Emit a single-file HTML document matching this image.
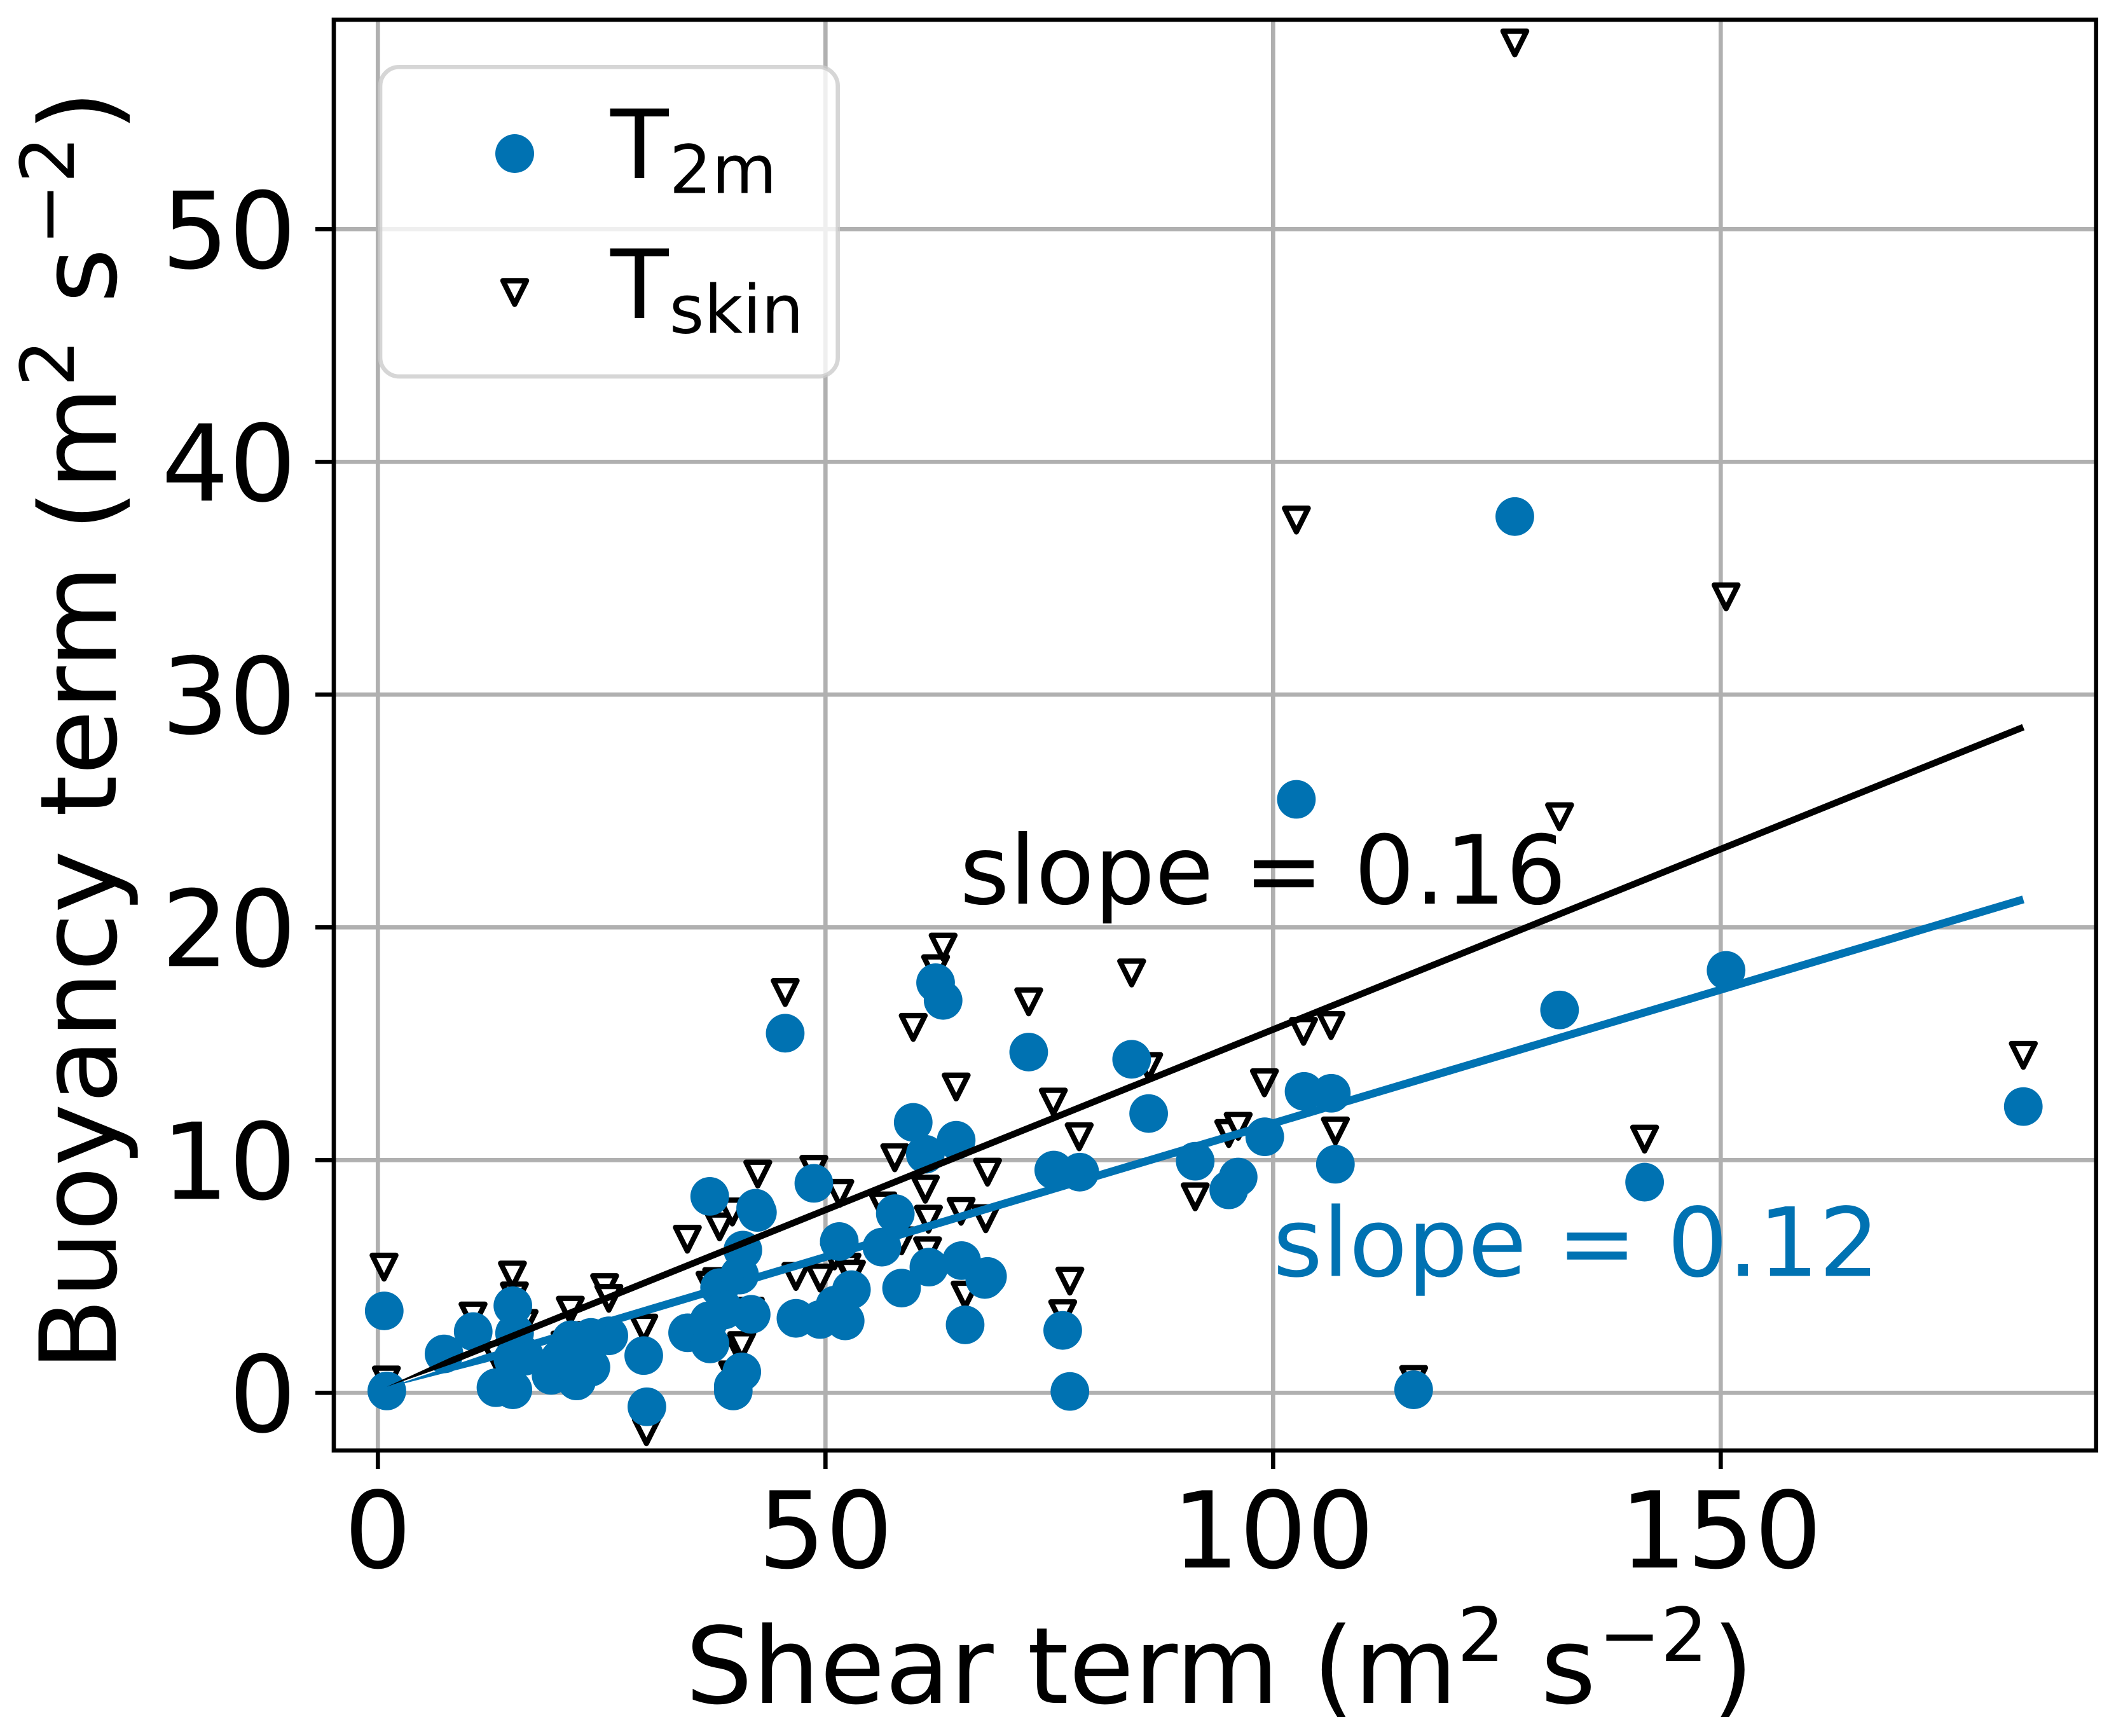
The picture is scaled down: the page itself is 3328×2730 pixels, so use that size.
<!DOCTYPE html>
<html lang="en">
<head>
<meta charset="utf-8">
<title>Buoyancy term vs shear term</title>
<style>
html,body{margin:0;padding:0;background:#fff;}
svg{display:block;}
text{font-family:"DejaVu Sans","Liberation Sans",sans-serif;fill:#000;}
</style>
</head>
<body>
<svg id="chart" xmlns="http://www.w3.org/2000/svg" width="3328" height="2730" viewBox="0 0 3328 2730">
  <rect x="0" y="0" width="3328" height="2730" fill="#ffffff"/>
  <g id="grid"></g>
  <g id="skin"></g>
  <g id="t2m"></g>
  <g id="fits"></g>
  <text x="1509.5" y="1421" font-size="150">slope = 0.16</text>
  <text x="2002" y="2006.5" font-size="150" style="fill:#0072b2">slope = 0.12</text>
  <g>
    <rect x="598" y="105.3" width="719.7" height="486.7" rx="30" ry="30" fill="#ffffff" fill-opacity="0.8" stroke="#cccccc" stroke-opacity="0.8" stroke-width="6.67"/>
    <circle cx="809.5" cy="241.5" r="30.5" fill="#0072b2"/>
    <text x="960" y="280" font-size="150">T<tspan font-size="105" dx="1" dy="23.6">2m</tspan></text>
    <path d="M790.9 441.4H828.1L809.5 478.6Z" fill="#ffffff" stroke="#000000" stroke-width="8.33" stroke-linejoin="round"/>
    <text x="960" y="500" font-size="150">T<tspan font-size="105" dx="1" dy="23.6">skin</tspan></text>
  </g>
  <rect x="525" y="31" width="2771.7" height="2250" fill="none" stroke="#000000" stroke-width="6.67"/>
  <g id="xticks"></g>
  <g id="yticks"></g>
  <text x="1078" y="2678" font-size="166.7" xml:space="preserve">Shear term (m<tspan font-size="116.7" dy="-66">2</tspan><tspan dx="4" dy="66"> s</tspan><tspan font-size="116.7" dx="4" dy="-66">−2</tspan><tspan dx="7" dy="66">)</tspan></text>
  <text transform="translate(182 2156) rotate(-90)" font-size="166.7" xml:space="preserve">Buoyancy term (m<tspan font-size="116.7" dy="-66">2</tspan><tspan dx="4" dy="66"> s</tspan><tspan font-size="116.7" dx="4" dy="-66">−2</tspan><tspan dx="7" dy="66">)</tspan></text>
</svg>
<script>
const xTicks = [0, 50, 100, 150];
const yTicks = [0, 10, 20, 30, 40, 50];
const t2mShear = [0.71,1.0,7.39,10.65,13.19,15.08,15.27,16.4,15.08,15.08,19.35,20.3,21.6,22.2,21.7,23.8,23.8,25.8,29.7,30.05,34.6,37.07,37.1,37.0,38.17,38.7,39.7,39.7,40.65,40.77,40.4,41.7,42.2,42.4,45.5,46.7,48.7,49.4,51.07,51.54,52.2,52.9,56.3,57.8,58.5,59.8,61.15,61.55,62.3,63.14,64.6,65.2,65.6,67.8,68.1,72.7,75.5,76.5,77.3,78.4,84.2,86.1,91.3,95.05,96.1,99.07,102.6,103.46,106.5,106.96,115.7,127,132,141.5,150.6,183.8];
const t2mBuoyancy = [3.52,0.08,1.67,2.63,0.22,3.74,2.56,1.57,1.46,0.13,0.75,1.45,2.28,0.51,1.29,2.38,1.1,2.45,1.6,-0.6,2.58,8.44,2.1,3.1,4.52,3.56,0.08,0.28,0.9,6.13,5.06,3.37,7.93,7.75,15.45,3.2,9.0,3.15,3.77,6.5,3.09,4.43,6.26,7.7,4.5,11.62,10.25,5.4,17.62,16.86,10.85,5.68,2.92,4.87,5.0,14.64,9.57,2.68,0.06,9.48,14.33,12.0,9.95,8.72,9.27,11.0,25.5,12.95,12.87,9.82,0.13,37.65,16.45,9.05,18.15,12.3];
const skinShear = [0.69,0.95,10.63,13.19,15.03,15.25,16.33,20.9,21.5,23.4,25.33,25.8,29.7,30,34.57,37.1,37.85,38.17,39.6,39.63,40.4,40.65,41.6,42.44,45.5,46.7,48.7,49.4,51.0,51.6,52.4,52.9,56.4,57.74,58.5,59.8,61.15,61.4,61.5,62.3,63.14,64.6,65.15,65.6,68.1,67.9,72.7,75.45,76.5,77.3,78.34,84.2,86.1,91.3,95.05,96.1,99.03,102.6,103.4,106.47,106.96,115.7,127,132,141.5,150.6,183.8];
const skinBuoyancy = [5.4,0.55,3.3,1.6,5.06,4.16,2.98,2.05,3.55,2.46,4.52,4.06,2.78,-1.67,6.6,4.62,4.78,7.13,7.77,0.77,1.87,2.03,3.5,9.4,17.2,5.0,9.6,4.93,5.88,8.57,5.4,5.1,8.03,10.1,6.53,15.7,8.75,6.1,7.46,18.22,19.15,13.14,7.8,4.2,9.48,7.48,16.8,12.49,3.4,4.8,11.0,18.04,14.02,8.42,11.14,11.45,13.32,37.5,15.53,15.78,11.25,0.57,58.0,24.75,10.9,34.2,14.5];
const fitShear = [1.0, 183.8];
const fitSkinValues = [0.26, 28.6];
const fitT2mValues = [0.21, 21.2];

const SVGNS = 'http://www.w3.org/2000/svg';
const sx = v => 594.3 + v * 14.08;
const sy = v => 2190.3 - v * 36.6;
const BLUE = '#0072b2';
const STROKE = 6.67;

function make(tag, parent, attrs) {
  const el = document.createElementNS(SVGNS, tag);
  for (const k in attrs) el.setAttribute(k, attrs[k]);
  parent.appendChild(el);
  return el;
}

// Fit lines narrow to a point over their first stretch, as in the source figure.
function fitPath(ys, width, taperFraction) {
  const x0 = sx(fitShear[0]), y0 = sy(ys[0]);
  const x1 = sx(fitShear[1]), y1 = sy(ys[1]);
  const dx = x1 - x0, dy = y1 - y0, len = Math.hypot(dx, dy);
  const nx = -dy / len * width / 2, ny = dx / len * width / 2;
  const mx = x0 + dx * taperFraction, my = y0 + dy * taperFraction;
  return 'M' + x0 + ' ' + y0 +
    'L' + (mx + nx) + ' ' + (my + ny) +
    'L' + (x1 + nx) + ' ' + (y1 + ny) +
    'L' + (x1 - nx) + ' ' + (y1 - ny) +
    'L' + (mx - nx) + ' ' + (my - ny) + 'Z';
}

const grid = document.getElementById('grid');
xTicks.forEach(v => {
  const line = make('line', grid, {x1: sx(v), x2: sx(v), y1: 31, y2: 2281, stroke: '#b0b0b0', 'stroke-width': STROKE});
  
  
});
yTicks.forEach(v => {
  const line = make('line', grid, {x1: 525, x2: 3296.7, y1: sy(v), y2: sy(v), stroke: '#b0b0b0', 'stroke-width': STROKE});
  
  
});

const skin = document.getElementById('skin');
skinShear.forEach((x, i) => {
  const cx = sx(x), cy = sy(skinBuoyancy[i]), h = 18.6;
  const tri = make('path', skin, {
    d: 'M' + (cx - h) + ' ' + (cy - h) + 'H' + (cx + h) + 'L' + cx + ' ' + (cy + h) + 'Z',
    fill: '#ffffff', stroke: '#000000', 'stroke-width': 8.33, 'stroke-linejoin': 'round'
  });
  
  
});

const t2m = document.getElementById('t2m');
t2mShear.forEach((x, i) => {
  const dot = make('circle', t2m, {cx: sx(x), cy: sy(t2mBuoyancy[i]), r: 30.4, fill: BLUE});
  
  
});

const fits = document.getElementById('fits');
const blueFit = make('path', fits, {d: fitPath(fitT2mValues, 12.5, 0.06), fill: BLUE});


const blackFit = make('path', fits, {d: fitPath(fitSkinValues, 10.4, 0.04), fill: '#000000'});



const xt = document.getElementById('xticks');
xTicks.forEach(v => {
  const tick = make('line', xt, {x1: sx(v), x2: sx(v), y1: 2281, y2: 2310, stroke: '#000000', 'stroke-width': STROKE});
  
  
  const label = make('text', xt, {x: sx(v), y: 2465, 'font-size': 166.7, 'text-anchor': 'middle'});
  
  
  label.textContent = String(v);
});
const yt = document.getElementById('yticks');
yTicks.forEach(v => {
  const tick = make('line', yt, {x1: 496, x2: 525, y1: sy(v), y2: sy(v), stroke: '#000000', 'stroke-width': STROKE});
  
  
  const label = make('text', yt, {x: 466, y: sy(v) + 61, 'font-size': 166.7, 'text-anchor': 'end'});
  
  
  label.textContent = String(v);
});
</script>
</body>
</html>
